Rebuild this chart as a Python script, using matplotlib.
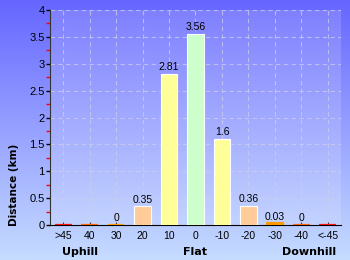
import numpy as np
import matplotlib
matplotlib.use("Agg")
import matplotlib.pyplot as plt

# gradient categories, distance in km
grades = [">45", "40", "30", "20", "10", "0", "-10", "-20", "-30", "-40", "<-45"]
distance = [0, 0, 0, 0.35, 2.81, 3.56, 1.6, 0.36, 0.03, 0, 0]
value_labels = ["", "", "0", "0.35", "2.81", "3.56", "1.6", "0.36", "0.03", "0", ""]
bar_colors = ["#ff1111", "#ff6600", "#ff9900", "#ffcc99", "#ffff99", "#ccffcc",
              "#ffff99", "#ffcc99", "#ff9900", "#ff6600", "#ff1111"]
yticks = [0, 0.5, 1, 1.5, 2, 2.5, 3, 3.5, 4]
ytick_labels = ["0", "0.5", "1", "1.5", "2", "2.5", "3", "3.5", "4"]
section_labels = ["Uphill", "Flat", "Downhill"]
section_pos = [0.65, 5, 9.3]

W, H = 350, 260
fig = plt.figure(figsize=(W / 100, H / 100), dpi=100)

# blue gradient backdrop
bg = fig.add_axes([0, 0, 1, 1], zorder=-10)
top = np.array([102, 102, 255]) / 255
bottom = np.array([198, 220, 255]) / 255
t = np.linspace(0, 1, 256)[:, None]
grad = top + (bottom - top) * t
bg.imshow(grad[:, None, :].repeat(2, axis=1), aspect="auto", extent=[0, 1, 0, 1])
bg.axis("off")

ax = fig.add_axes([50 / W, 35 / H, 291 / W, 215 / H])
ax.set_facecolor((1, 1, 1, 0.15))

x = np.arange(len(grades))
for xi, d, c in zip(x, distance, bar_colors):
    if d < 0.05:
        ax.bar(xi, d, width=0.63, color=c, edgecolor=c, linewidth=1.6, zorder=3)
    else:
        ax.bar(xi, d, width=0.63, color=c, edgecolor="white", linewidth=0.8, zorder=3)

for xi, d, lab in zip(x, distance, value_labels):
    if lab:
        ax.text(xi, d + 0.03, lab, ha="center", va="bottom", fontsize=7.5,
                family="Liberation Sans", zorder=4)

ax.set_xlim(-0.5, len(grades) - 0.5)
ax.set_ylim(0, 4)
ax.set_xticks(x)
ax.set_xticklabels(grades, family="Liberation Sans", fontsize=7.5)
ax.set_yticks(yticks)
ax.set_yticklabels(ytick_labels, family="Liberation Sans", fontsize=8)
ax.set_yticks(np.arange(0.25, 4, 0.5), minor=True)
ax.tick_params(axis="y", which="major", length=3, width=1, color="black", pad=1)
ax.tick_params(axis="y", which="minor", length=3, width=1, color="red")
ax.tick_params(axis="x", length=2, direction="in", pad=4, color="#553333")

ax.grid(True, which="major", color="#d0d0e8", linestyle=(0, (4, 3)), linewidth=0.8, alpha=0.7)
ax.set_axisbelow(True)
for s in ["top", "right"]:
    ax.spines[s].set_visible(False)
ax.spines["left"].set_color("#333333")
ax.spines["bottom"].set_color("black")

for lab, p in zip(section_labels, section_pos):
    ax.text(p, -0.5, lab, ha="center", va="center", fontsize=8, fontweight="bold",
            transform=ax.transData, clip_on=False)

fig.text(14 / W, 1 - 185 / H, "Distance (km)", rotation=90, ha="center", va="center",
         fontsize=7.5, fontweight="bold")

fig.savefig("out.png", dpi=100)
